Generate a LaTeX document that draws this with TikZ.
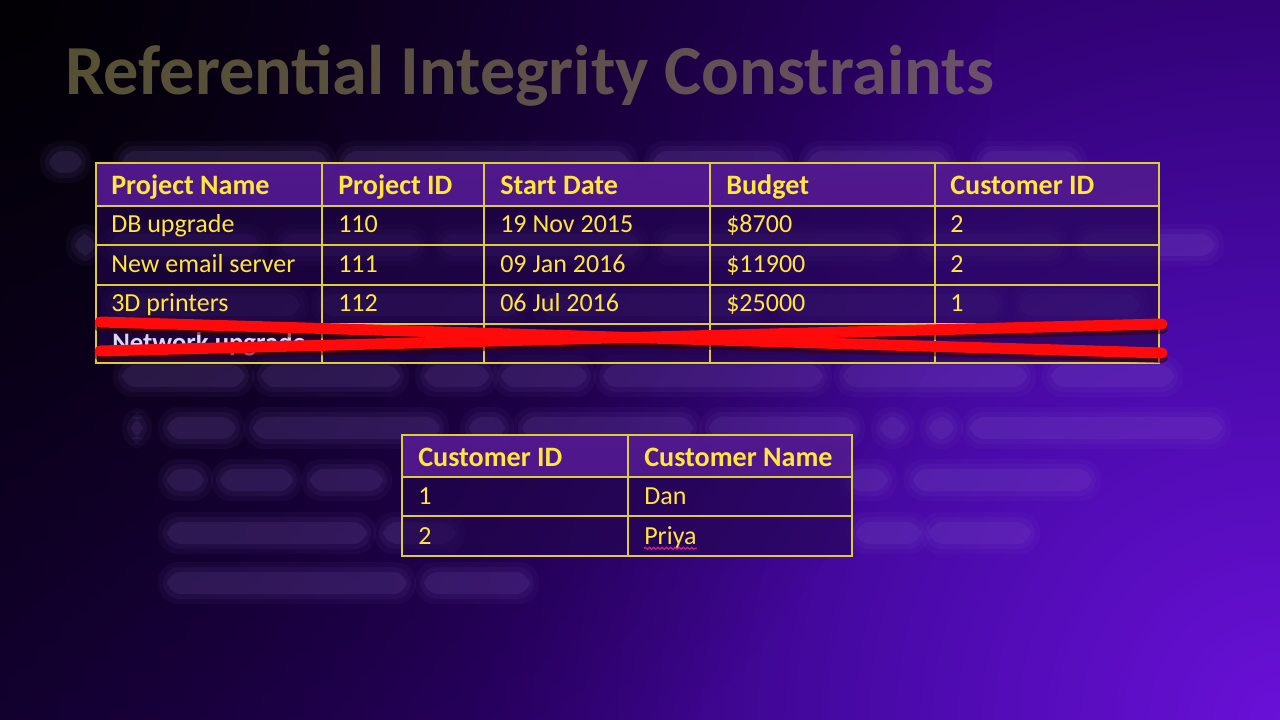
\documentclass[tikz,border=0pt]{standalone}
\usepackage{fontspec}
\setmainfont{Carlito}
\usetikzlibrary{decorations.pathmorphing,fadings}
\definecolor{bgA}{HTML}{6A10D8}
\definecolor{bgB}{HTML}{4A0AAA}
\definecolor{bgC}{HTML}{2C006A}
\definecolor{bgD}{HTML}{1A0042}
\definecolor{bgE}{HTML}{10002A}
\definecolor{ylw}{HTML}{FFE63C}
\definecolor{gridc}{HTML}{DCCC3C}
\definecolor{hdrfill}{HTML}{52198F}
\definecolor{bodyfill}{HTML}{22064E}
\definecolor{blurc}{HTML}{8A68C8}
\definecolor{titlec}{HTML}{A8A060}
\definecolor{strikec}{HTML}{FF0A0A}
\definecolor{shadowc}{HTML}{3A0000}
\definecolor{netc}{HTML}{DDD5F2}
\definecolor{squigc}{HTML}{C8208A}
\definecolor{darkc}{HTML}{020004}
\pgfdeclareradialshading{bgrad}{\pgfpointorigin}{color(0bp)=(bgA); color(6.5bp)=(bgB); color(13.5bp)=(bgC); color(21bp)=(bgD); color(25bp)=(bgE); color(50bp)=(bgE)}
\tikzfading[name=softout, inner color=transparent!0, outer color=transparent!100]
\newcommand{\blurbar}[3]{%
  \fill[blurc, opacity=.06, rounded corners=14] ({#1-9},{#3-21}) rectangle ({#2+9},{#3+21});
  \fill[blurc, opacity=.08, rounded corners=12] ({#1-4},{#3-16}) rectangle ({#2+4},{#3+16});
  \fill[blurc, opacity=.12, rounded corners=10] (#1,{#3-11}) rectangle (#2,{#3+11});}
\tikzset{
  hdr/.style={font=\bfseries\fontsize{20}{24}\selectfont, text=ylw, inner sep=0pt, anchor=base west},
  cell/.style={font=\fontsize{18.5}{22}\selectfont, text=ylw, inner sep=0pt, anchor=base west},
  gridline/.style={draw=gridc, line width=1pt},
  strike/.style={draw=strikec, line width=7.8pt, line cap=round},
  strikeshadow/.style={draw=shadowc, line width=8.5pt, line cap=round, opacity=.55},
}
\begin{document}
\begin{tikzpicture}[x=0.025cm, y=-0.025cm]
\useasboundingbox (0,0) rectangle (1280,720);
% background
\begin{scope}
  \clip (0,0) rectangle (1280,720);
  \shade[shading=bgrad] (1280,720) circle (1500);
  \fill[darkc, path fading=softout] (0,0) circle (1000);
\end{scope}
% blurred slide text behind
\node[font=\bfseries\fontsize{50}{56}\selectfont, text=titlec, opacity=.5, inner sep=0pt, anchor=west] (title) at (65,76) {Referential Integrity Constraints};
\foreach \a/\b in {49/82,122/327,343/629,653/784,808/947,980/1078} {\blurbar{\a}{\b}{162}}
\foreach \a/\b in {75/95,110/260,280/420,440/640,660/900,920/1060,1080/1215} {\blurbar{\a}{\b}{245}}
\foreach \a/\b in {110/300,320/520,540/760,780/1000,1020/1140} {\blurbar{\a}{\b}{305}}
\foreach \a/\b in {122/245,261/400,424/489,501/587,603/823,843/1027,1051/1174} {\blurbar{\a}{\b}{376}}
\foreach \a/\b in {131/143,167/236,253/440,469/505,522/693,709/856,880/905,929/954,970/1222} {\blurbar{\a}{\b}{428}}
\foreach \a/\b in {167/204,220/293,310/383,848/888,913/1092} {\blurbar{\a}{\b}{480}}
\foreach \a/\b in {167/367,383/456,856/921,929/1031} {\blurbar{\a}{\b}{533}}
\foreach \a/\b in {167/407,424/530} {\blurbar{\a}{\b}{583}}
% ---------- table 1 ----------
\fill[hdrfill, opacity=.95] (96,163) rectangle (1159,206);
\fill[bodyfill, opacity=.6] (96,206) rectangle (1159,363);
\foreach \yy in {206,245,285,324} {\draw[gridline] (96,\yy) -- (1159,\yy);}
\foreach \xx in {322,484,710,935} {\draw[gridline] (\xx,163) -- (\xx,363);}
\draw[gridline] (96,163) rectangle (1159,363);
\node[hdr] (p-h1) at (111,195) {Project Name};
\node[hdr] (p-h2) at (338,195) {Project ID};
\node[hdr] (p-h3) at (500,195) {Start Date};
\node[hdr] (p-h4) at (726,195) {Budget};
\node[hdr] (p-h5) at (950,195) {Customer ID};
\node[cell] (p-11) at (111,233) {DB upgrade};
\node[cell] (p-12) at (338,233) {110};
\node[cell] (p-13) at (500,233) {19 Nov 2015};
\node[cell] (p-14) at (726,233) {\$8700};
\node[cell] (p-15) at (950,233) {2};
\node[cell] (p-21) at (111,273) {New email server};
\node[cell] (p-22) at (338,273) {111};
\node[cell] (p-23) at (500,273) {09 Jan 2016};
\node[cell] (p-24) at (726,273) {\$11900};
\node[cell] (p-25) at (950,273) {2};
\node[cell] (p-31) at (111,312) {3D printers};
\node[cell] (p-32) at (338,312) {112};
\node[cell] (p-33) at (500,312) {06 Jul 2016};
\node[cell] (p-34) at (726,312) {\$25000};
\node[cell] (p-35) at (950,312) {1};
\node[font=\bfseries\fontsize{19}{22}\selectfont, text=netc, inner sep=0pt, anchor=base west] (p-41) at (112,352) {Network upgrade};
% red strike-through
\draw[strikeshadow] (100,326) -- (1162,357);
\draw[strikeshadow] (100,355) -- (1162,328);
\draw[strike] (100,322) -- (1162,353);
\draw[strike] (100,351) -- (1162,324);
% ---------- table 2 ----------
\fill[hdrfill, opacity=.95] (402,435) rectangle (852,477);
\fill[bodyfill, opacity=.6] (402,477) rectangle (852,556);
\foreach \yy in {477,516} {\draw[gridline] (402,\yy) -- (852,\yy);}
\draw[gridline] (628,435) -- (628,556);
\draw[gridline] (402,435) rectangle (852,556);
\node[hdr] (c-h1) at (418,466) {Customer ID};
\node[hdr] (c-h2) at (644,466) {Customer Name};
\node[cell] (c-11) at (418,504) {1};
\node[cell] (c-12) at (644,504) {Dan};
\node[cell] (c-21) at (418,544) {2};
\node[cell] (c-22) at (644,544) {Priya};
\draw[squigc, line width=1pt, decorate, decoration={snake, amplitude=.6pt, segment length=3pt}]
  ([yshift=-3pt]c-22.base west) -- ([yshift=-3pt]c-22.base east);
\end{tikzpicture}
\end{document}
